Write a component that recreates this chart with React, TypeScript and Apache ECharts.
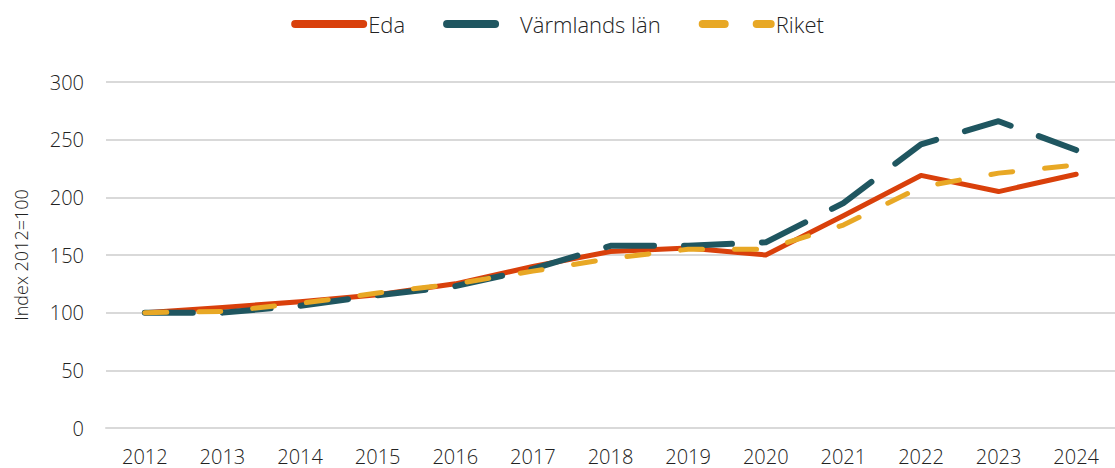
import React, { useEffect, useRef } from "react";
import * as echarts from "echarts";

const years = ["2012", "2013", "2014", "2015", "2016", "2017", "2018", "2019", "2020", "2021", "2022", "2023", "2024"];
const eda = [100, 104.5, 109.5, 115.5, 125, 140, 153, 156, 150, 184, 219, 205, 220];
const varmland = [100, 100, 106, 115, 123, 138, 158, 158, 161, 195, 246, 266, 241];
const riket = [100, 101, 108, 117, 125, 136, 147, 155, 155, 176, 209, 221, 228];

const FONT = "'Open Sans', sans-serif";

export default function App() {
  const ref = useRef<HTMLDivElement>(null);
  useEffect(() => {
    if (!ref.current) return;
    const chart = echarts.init(ref.current, null, { renderer: "svg" });
    chart.setOption({
      animation: false,
      textStyle: { fontFamily: FONT },
      legend: {
        top: 8,
        left: "center",
        itemWidth: 68,
        itemHeight: 14,
        itemGap: 38,
        itemStyle: { opacity: 0 },
        lineStyle: { width: 8, cap: "round" },
        textStyle: { fontSize: 22, fontWeight: 300, color: "#222", fontFamily: FONT },
        data: ["Eda", "Värmlands län", "Riket"],
      },
      grid: { left: 106, top: 82, height: 346, width: 1021 },
      xAxis: {
        type: "category",
        data: years,
        boundaryGap: true,
        axisLine: { show: true, lineStyle: { color: "#d9d9d9", width: 2 } },
        axisTick: { show: false },
        axisLabel: { fontSize: 20, fontWeight: 300, color: "#222", margin: 18, fontFamily: FONT },
      },
      yAxis: {
        type: "value",
        min: 0,
        max: 300,
        interval: 50,
        name: "Index 2012=100",
        nameLocation: "middle",
        nameGap: 76,
        nameTextStyle: { fontSize: 18, fontWeight: 300, color: "#222", fontFamily: FONT },
        axisLine: { show: false },
        axisTick: { show: false },
        axisLabel: { fontSize: 20, fontWeight: 300, color: "#222", margin: 22, fontFamily: FONT },
        splitLine: { lineStyle: { color: "#d9d9d9", width: 2 } },
      },
      series: [
        {
          name: "Eda",
          type: "line",
          data: eda,
          symbol: "none",
          z: 1,
          itemStyle: { color: "#D9400B" },
          lineStyle: { color: "#D9400B", width: 5, cap: "round", join: "round" },
        },
        {
          name: "Värmlands län",
          type: "line",
          data: varmland,
          symbol: "none",
          z: 2,
          itemStyle: { color: "#1F5660" },
          lineStyle: { color: "#1F5660", width: 6, type: [48, 30], cap: "round", join: "round" },
        },
        {
          name: "Riket",
          type: "line",
          data: riket,
          symbol: "none",
          z: 3,
          itemStyle: { color: "#E8A825" },
          lineStyle: { color: "#E8A825", width: 5, type: [22, 32], cap: "round", join: "round" },
        },
      ],
    });
    return () => chart.dispose();
  }, []);
  return <div ref={ref} style={{ position: "absolute", left: 0, top: 0, width: 1115, height: 468 }} />;
}
